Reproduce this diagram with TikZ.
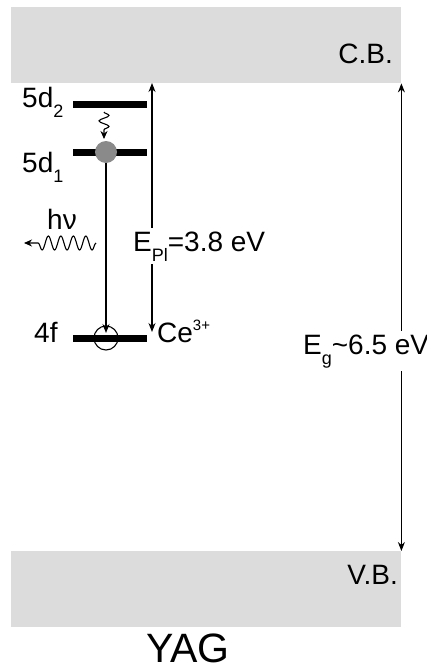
\documentclass[tikz,border=0pt]{standalone}
\usepackage{fontspec}
\setmainfont{Liberation Sans}
\usetikzlibrary{arrows.meta,decorations.pathmorphing}
\definecolor{bandgray}{HTML}{DCDCDC}
\definecolor{dotgray}{HTML}{8A8A8A}
\newcommand\mysub[1]{\raisebox{-0.36em}{\fontsize{18}{18}\selectfont #1}}
\newcommand\mysup[1]{\raisebox{0.42em}{\fontsize{15}{15}\selectfont #1}}
\tikzset{
  band/.style={fill=bandgray, inner sep=0, minimum width=390, minimum height=76, anchor=north west},
  level/.style={fill=black, inner sep=0, minimum width=74, minimum height=7},
  lbl/.style={font=\fontsize{28}{32}\selectfont, inner sep=0},
  arr/.style={line width=1.1pt, -{Stealth[length=9pt,width=7pt]}},
  darr/.style={line width=1.1pt, {Stealth[length=9pt,width=7pt]}-{Stealth[length=9pt,width=7pt]}},
}
\begin{document}
\begin{tikzpicture}[x=1pt,y=-1pt]
\useasboundingbox (0,0) rectangle (426,672);
\begin{scope}
\clip (0,0) rectangle (426,672);
% bands
\node[band] (cb) at (11,7) {};
\node[band] (vb) at (11,551) {};
\node[lbl, anchor=base east] (cbl) at (393,63) {C.B.};
\node[lbl, anchor=base east] (vbl) at (398,584) {V.B.};
% levels
\node[level] (d2) at (110,104.5) {};
\node[level] (d1) at (110,152) {};
\node[level] (f4) at (110,338) {};
\node[lbl, anchor=base west] (d2l) at (22,107) {5d\mysub{2}};
\node[lbl, anchor=base west] (d1l) at (22,172) {5d\mysub{1}};
\node[lbl, anchor=base west] (f4l) at (34,342) {4f};
\node[lbl, anchor=base west] (cel) at (157,342) {Ce\mysup{3+}};
% electron and hole
\node[circle, fill=dotgray, minimum size=22, inner sep=0] (el) at (106,152) {};
\node[circle, draw=black, line width=1.1pt, minimum size=24, inner sep=0] (ho) at (106,338) {};
\coordinate (hotip) at (106,333);
\draw[arr] (el.south) -- (hotip);
% relaxation wiggle
\coordinate (wtop) at (104,112);
\coordinate (wend) at (104,139);
\draw[line width=1.1pt, -{Stealth[length=8pt,width=7pt]},
      decorate, decoration={snake, segment length=11, amplitude=5, post length=8}]
      (wtop) -- (wend);
% emission
\coordinate (ws) at (96,243);
\coordinate (we) at (24,243);
\draw[line width=1.1pt, -{Stealth[length=8pt,width=7pt]},
      decorate, decoration={snake, segment length=12.5, amplitude=7, post length=8}]
      (ws) -- (we);
\node[lbl, anchor=base west] (hv) at (47,229) {hν};
% energy arrows
\coordinate (eplt) at (152,83);
\coordinate (eplb) at (152,332);
\draw[darr] (eplt) -- (eplb);
\node[lbl, anchor=base west, fill=white, inner ysep=3] (epl) at (133,251) {E\mysub{Pl}=3.8 eV};
\draw[darr] (cb.south east) -- (vb.north east);
\node[lbl, anchor=base west, fill=white, inner ysep=3] (eg) at (303,354) {E\mysub{g}\textasciitilde6.5 eV};
\node[font=\fontsize{41}{45}\selectfont, inner sep=0, anchor=base] (yag) at (188,662) {YAG};
\end{scope}
\end{tikzpicture}
\end{document}
